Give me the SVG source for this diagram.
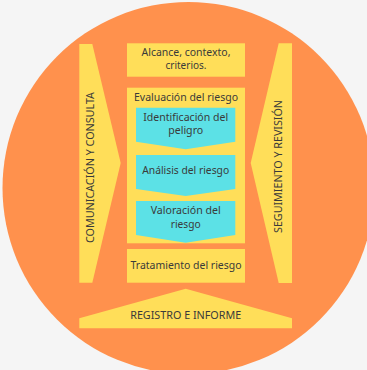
<svg xmlns="http://www.w3.org/2000/svg" width="367" height="370" viewBox="0 0 367 370">
<style>
.y{fill:#FFDE59}
.c{fill:#5CE1E6}
.t{font-family:"Noto Sans","Liberation Sans",sans-serif;font-size:10.5px;fill:#3a3a3a;text-anchor:middle}
</style>
<rect width="367" height="370" fill="#F5F5F5"/>
<circle id="bg" cx="188.5" cy="188" r="186" fill="#FF914D"/>
<g id="comunicacion">
<polygon class="y" points="79.3,44 92.3,44 120.7,163 92.3,282.7 79.3,282.7"/>
<text class="t" transform="translate(94.3,167.5) rotate(-90)" textLength="151" lengthAdjust="spacingAndGlyphs">COMUNICACIÓN Y CONSULTA</text>
</g>
<g id="seguimiento">
<polygon class="y" points="292,43.3 278.7,43.3 250.7,163 278.7,283 292,283"/>
<text class="t" transform="translate(282.2,166.5) rotate(-90)" textLength="133" lengthAdjust="spacingAndGlyphs">SEGUIMIENTO Y REVISIÓN</text>
</g>
<g id="alcance">
<rect class="y" x="127" y="43.3" width="118" height="33.4"/>
<text class="t" x="186" y="55.5" textLength="89" lengthAdjust="spacingAndGlyphs">Alcance, contexto,</text>
<text class="t" x="186" y="68.5" textLength="41" lengthAdjust="spacingAndGlyphs">criterios.</text>
</g>
<g id="evaluacion">
<rect class="y" x="127" y="87.7" width="118" height="155.6"/>
<text class="t" x="186" y="100.5" textLength="104" lengthAdjust="spacingAndGlyphs">Evaluación del riesgo</text>
</g>
<g id="identificacion">
<polygon class="c" points="136,107.7 235.3,107.7 235.3,141.7 185.7,149.3 136,141.7"/>
<text class="t" x="185.7" y="120.5" textLength="85" lengthAdjust="spacingAndGlyphs">Identificación del</text>
<text class="t" x="185.7" y="134" textLength="35" lengthAdjust="spacingAndGlyphs">peligro</text>
</g>
<g id="analisis">
<polygon class="c" points="136,155 235.3,155 235.3,189 185.7,196 136,189"/>
<text class="t" x="185.7" y="174" textLength="87" lengthAdjust="spacingAndGlyphs">Análisis del riesgo</text>
</g>
<g id="valoracion">
<polygon class="c" points="136,201 235.3,201 235.3,235 185.7,242.7 136,235"/>
<text class="t" x="185.7" y="214" textLength="70" lengthAdjust="spacingAndGlyphs">Valoración del</text>
<text class="t" x="185.7" y="227.5" textLength="30" lengthAdjust="spacingAndGlyphs">riesgo</text>
</g>
<g id="tratamiento">
<rect class="y" x="127" y="249" width="118" height="33.7"/>
<text class="t" x="186" y="268.5" textLength="111" lengthAdjust="spacingAndGlyphs">Tratamiento del riesgo</text>
</g>
<g id="registro">
<polygon class="y" points="79.3,318.3 185.7,288.7 292,318.3 292,328.3 79.3,328.3"/>
<text class="t" x="185.7" y="319" textLength="111" lengthAdjust="spacingAndGlyphs">REGISTRO E INFORME</text>
</g>
<g id="connectors"></g>
</svg>
